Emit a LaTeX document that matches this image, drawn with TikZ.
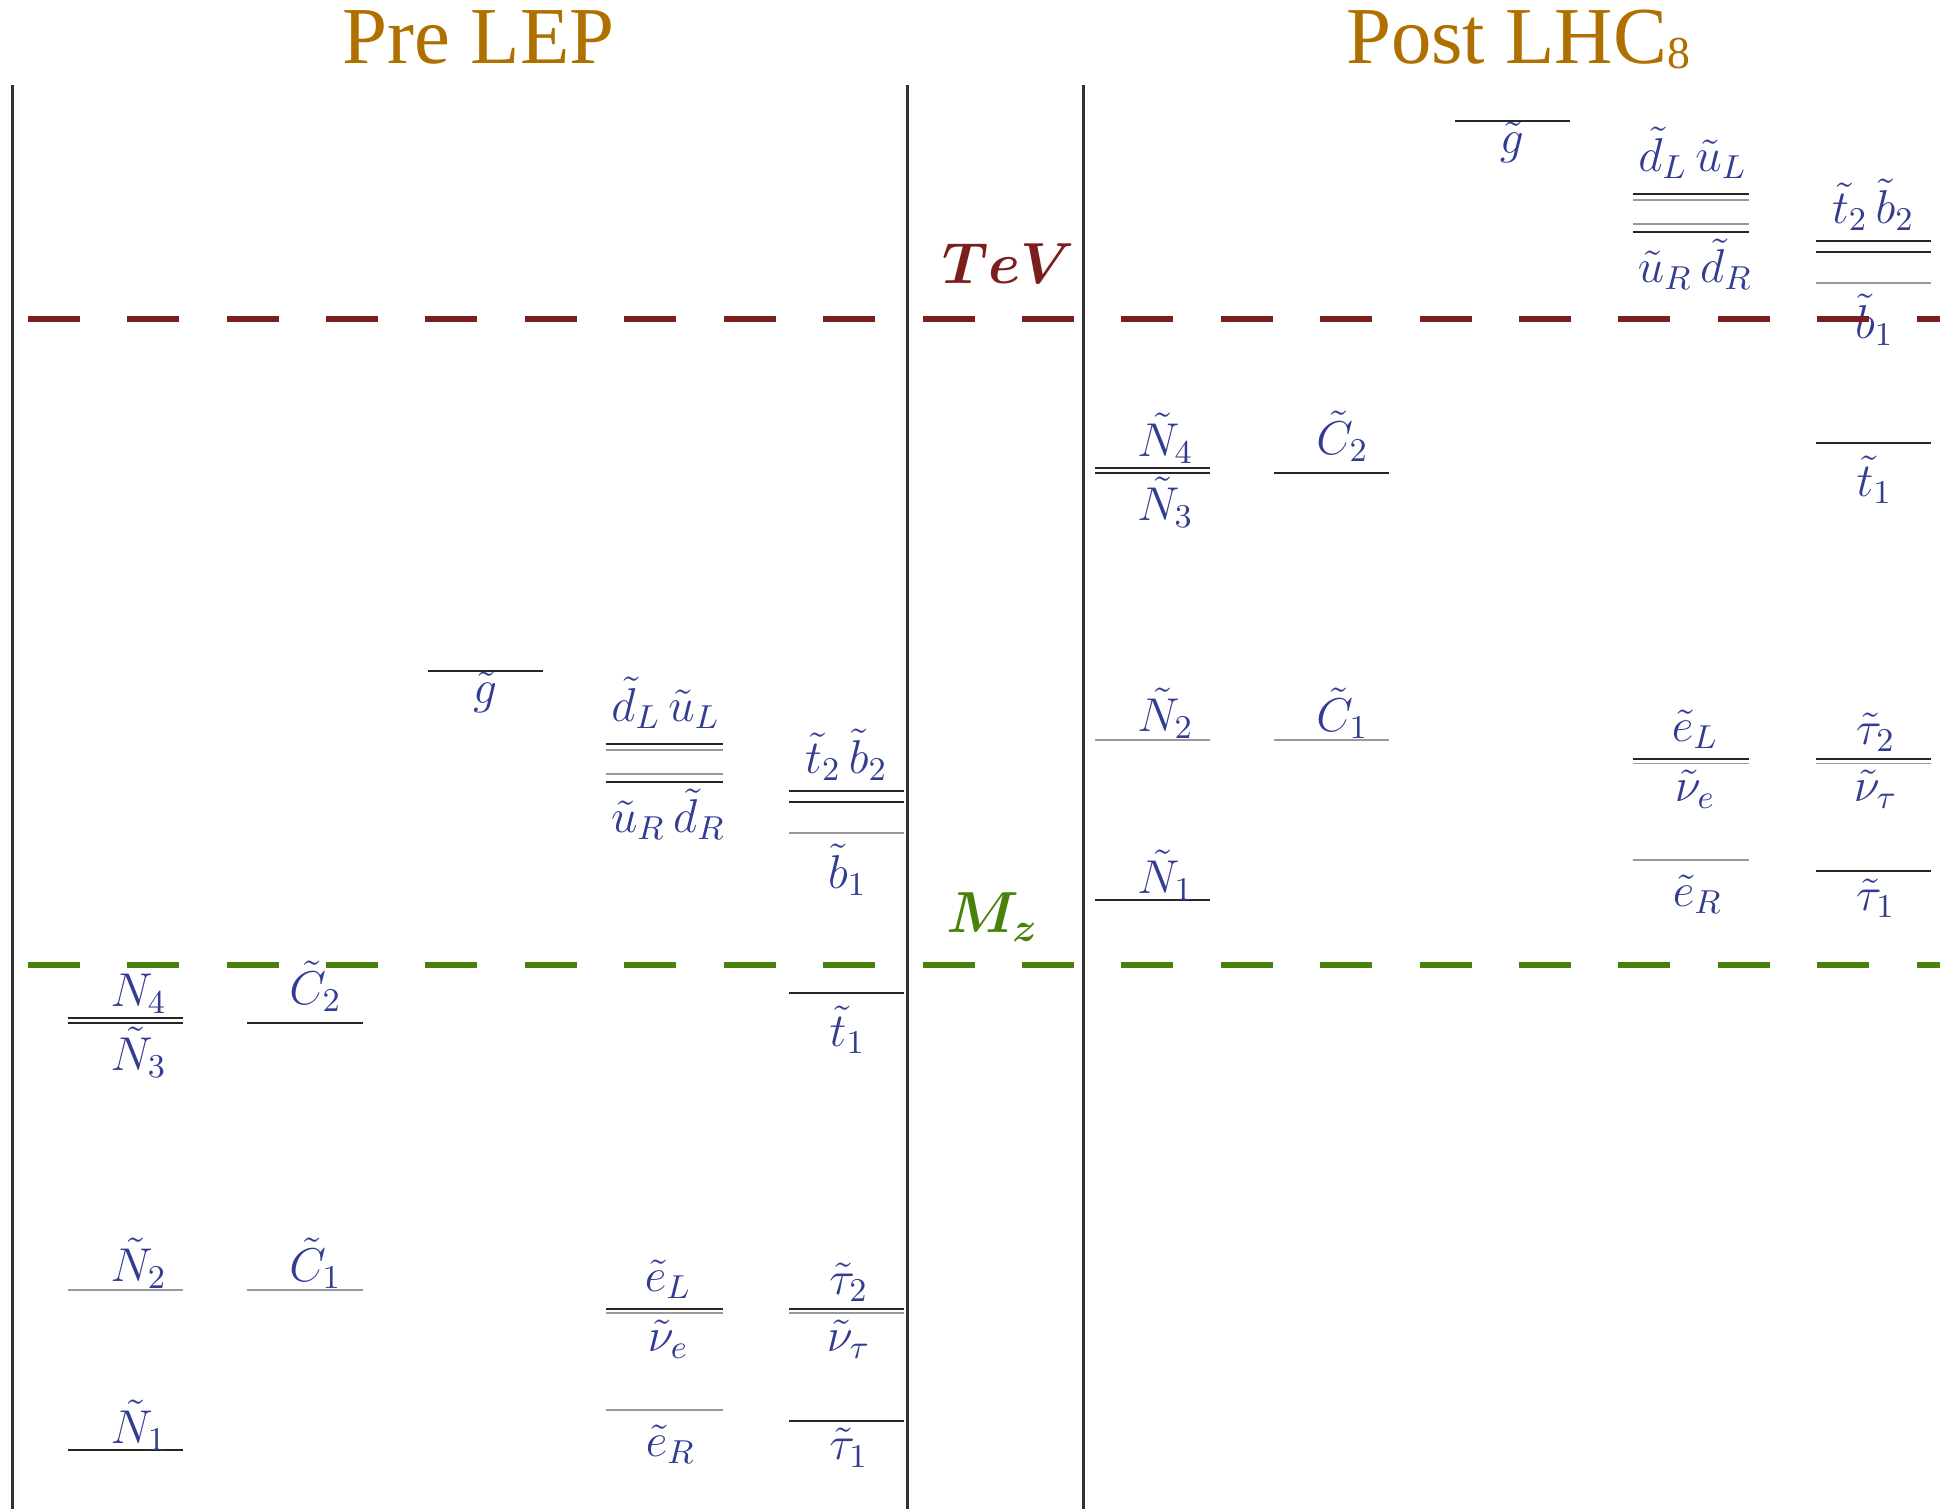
\RequirePackage{fix-cm}
\documentclass[tikz,border=0pt]{standalone}
\usepackage{amsmath}
\usepackage{fontspec}
\newfontfamily\titlefont{Liberation Serif}
\usepackage{tikz}
\usetikzlibrary{positioning}
\definecolor{titlecol}{RGB}{176,112,0}
\definecolor{tevcol}{RGB}{125,30,30}
\definecolor{mzcol}{RGB}{72,130,10}
\definecolor{sparticle}{RGB}{50,60,145}
\tikzset{
  hdr/.style       = {anchor=base, text=titlecol, inner sep=0pt,
                      font=\titlefont\fontsize{23}{26}\selectfont},
  scalelbl/.style  = {anchor=base, inner sep=0pt, font=\fontsize{16.5}{19}\selectfont\boldmath},
  splbl/.style     = {anchor=base, inner sep=0pt, text=sparticle,
                      font=\fontsize{13.5}{15}\selectfont},
  lvl/.style       = {draw=black!85, line width=0.6pt},
  lvlg/.style      = {draw=black!40, line width=0.5pt},
  panel/.style     = {draw=black!80, line width=0.85pt},
  scaleline/.style = {line width=1.8pt, dash pattern=on 5.2mm off 4.74mm},
}

\begin{document}
\begin{tikzpicture}[x=0.12372mm, y=-0.12372mm]
  \useasboundingbox (0,0) rectangle (1568,1220);
  % headings
  \node[hdr] (pre)  at (387,51)  {Pre LEP};
  \node[hdr] (post) at (1227,51) {Post LHC\raisebox{-1.4pt}{\fontsize{13}{13}\selectfont 8}};
  % panel rules
  \foreach \px in {10.5,733.5,875.5}
    \draw[panel] (\px,68.7) -- (\px,1220);
  % the two spectra (Post LHC8 = Pre LEP moved up)
  \foreach \sx/\sy/\p in {0/0/a, 830/-444.5/b}{
    \begin{scope}[shift={(\sx,\sy)}]
      % gluino
      \draw[lvl] (346,542) -- (439,542);
      \node[splbl] (gl\p) at (392,568.5) {$\tilde g$};
      % squarks
      \draw[lvl]  (490,601.6) -- (584,601.6);
      \draw[lvlg] (490,606.2) -- (584,606.2);
      \draw[lvlg] (490,625.6) -- (584,625.6);
      \draw[lvl]  (490,632.3) -- (584,632.3);
      \node[splbl] (sqL\p) at (538,583) {$\tilde d_L\,\tilde u_L$};
      \node[splbl] (sqR\p) at (540,673) {$\tilde u_R\,\tilde d_R$};
      % third generation
      \draw[lvl]  (638,639.1) -- (731,639.1);
      \draw[lvl]  (638,648)   -- (731,648);
      \draw[lvlg] (638,673)   -- (731,673);
      \node[splbl] (tb\p) at (684,625) {$\tilde t_2\,\tilde b_2$};
      \node[splbl] (bo\p) at (685,718) {$\tilde b_1$};
      \draw[lvl] (638,802.9) -- (731,802.9);
      \node[splbl] (to\p) at (685,846) {$\tilde t_1$};
      % neutralinos, charginos
      \draw[lvl] (55,822.5) -- (148,822.5);
      \draw[lvl] (55,826.6) -- (148,826.6);
      \node[splbl] (N4\p) at (112,813.7) {$\tilde N_4$};
      \node[splbl] (N3\p) at (112,865) {$\tilde N_3$};
      \draw[lvl] (200,826.6) -- (293,826.6);
      \node[splbl] (C2\p) at (255,812) {$\tilde C_2$};
      \draw[lvlg] (55,1042.7) -- (148,1042.7);
      \draw[lvlg] (200,1042.7) -- (293,1042.7);
      \node[splbl] (N2\p) at (112,1036) {$\tilde N_2$};
      \node[splbl] (C1\p) at (255,1036) {$\tilde C_1$};
      \draw[lvl] (55,1172) -- (148,1172);
      \node[splbl] (N1\p) at (112,1166.6) {$\tilde N_1$};
      % sleptons
      \draw[lvl]  (490,1057.8) -- (584,1057.8);
      \draw[lvlg] (490,1061.5) -- (584,1061.5);
      \node[splbl] (eL\p) at (540,1044) {$\tilde e_L$};
      \node[splbl] (ve\p) at (540,1092.5) {$\tilde \nu_e$};
      \draw[lvl]  (638,1057.8) -- (731,1057.8);
      \draw[lvlg] (638,1061.5) -- (731,1061.5);
      \node[splbl] (ta2\p) at (686,1046) {$\tilde \tau_2$};
      \node[splbl] (vt\p) at (686,1092) {$\tilde \nu_\tau$};
      \draw[lvlg] (490,1139.7) -- (584,1139.7);
      \node[splbl] (eR\p) at (542,1177) {$\tilde e_R$};
      \draw[lvl] (638,1148.3) -- (731,1148.3);
      \node[splbl] (ta1\p) at (686,1180) {$\tilde \tau_1$};
    \end{scope}
  }
  % mass scales
  \draw[scaleline, tevcol] (22.5,258) -- (1568,258);
  \draw[scaleline, mzcol]  (22.5,780) -- (1568,780);
  \node[scalelbl, text=tevcol] (tev) at (815,229) {$TeV$};
  \node[scalelbl, text=mzcol]  (mz)  at (802,754) {$M_z$};
\end{tikzpicture}
\end{document}
